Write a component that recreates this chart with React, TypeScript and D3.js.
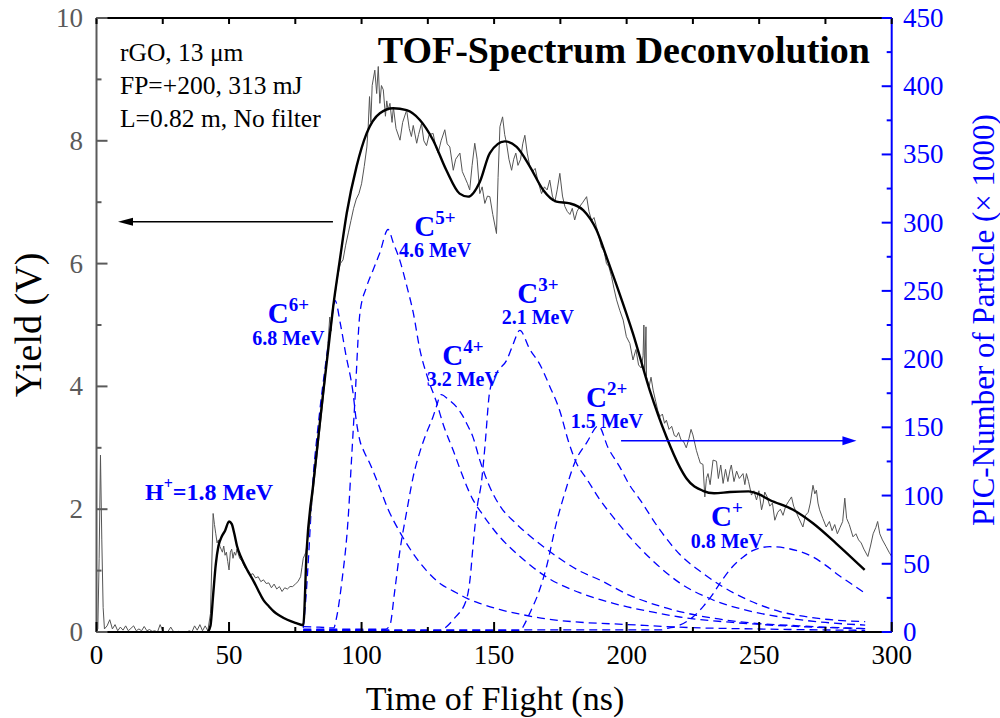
import React from "react";
import * as d3 from "d3";

// ---------- axis ticks ----------
const xMajorTicks = [0, 50, 100, 150, 200, 250, 300];
const xMinorTicks = [25, 75, 125, 175, 225, 275];
const yieldTicks = [0, 2, 4, 6, 8, 10];
const yieldMinorTicks = [1, 3, 5, 7, 9];
const picTicks = [0, 50, 100, 150, 200, 250, 300, 350, 400, 450];
const picMinorTicks = [25, 75, 125, 175, 225, 275, 325, 375, 425];

// ---------- measured TOF signal (ns, V) ----------
const measured: [number, number][] = [
  [0, 0], [0.5, 0.05], [1, 1.2], [1.5, 2.88], [2, 1.5], [2.5, 0.4], [3, 0.05], [4, 0.1], [5, 0.2], [6, 0.05],
  [7, 0.12], [8, 0.02], [9, 0.08], [10, 0.03], [11, 0.1], [12, 0.02], [13, 0.06], [14, 0.1], [15, 0.02], [16, 0.05],
  [17, 0.02], [18, 0.09], [19, 0.02], [20, 0.04], [21, 0.01], [22, 0.02], [23, 0.0], [24, 0.12], [25, 0.02], [26, 0.0],
  [27, 0.01], [28, 0.08], [29, 0.01], [30, 0.0], [31, 0.01], [32, 0.0], [33, 0.0], [34, 0.0], [35, 0.02], [36, 0.0],
  [37, 0.1], [38, 0.03], [39, 0.12], [40, 0.02], [41, 0.1], [42, 0.02], [43, 0.3], [44, 1.93], [44.5, 1.75], [45, 1.6],
  [45.5, 1.45], [46, 1.5], [46.6, 1.39], [47, 1.35], [47.5, 1.3], [48, 1.4], [48.5, 1.25], [49, 1.3], [49.5, 1.15], [50, 1.01],
  [50.5, 1.3], [51, 1.35], [51.5, 1.2], [52, 1.3], [52.5, 1.25], [53, 1.35], [54, 1.2], [55, 1.15], [56, 1.05], [57, 1.0],
  [58, 0.93], [59, 0.95], [60, 0.88], [61, 0.9], [62, 0.82], [63, 0.85], [64, 0.79], [65, 0.8], [66, 0.72], [67, 0.78],
  [68, 0.7], [69, 0.74], [70, 0.66], [71, 0.72], [72, 0.7], [73, 0.74], [74, 0.74], [75, 0.78], [76, 0.82], [77, 0.9],
  [77.5, 1.05], [78, 1.2], [78.5, 1.25], [79, 1.3], [80, 1.6], [81, 2.0], [82, 2.4], [83, 2.8], [84, 3.2], [85, 3.6],
  [86, 4.0], [87, 4.5], [88, 5.13], [88.5, 4.9], [89, 5.25], [90, 5.5], [91, 5.8], [92, 6.0], [93, 6.06], [94, 6.3],
  [95, 6.5], [96, 6.7], [97, 6.9], [98, 7.05], [99, 7.14], [100, 7.3], [101, 7.58], [102, 7.9], [102.5, 8.23], [103, 8.72],
  [103.5, 8.3], [104, 8.9], [105, 9.15], [105.7, 8.77], [106.3, 9.21], [106.9, 8.61], [107.5, 8.9], [108.2, 8.83], [109, 8.4], [109.5, 8.65],
  [110, 8.5], [110.7, 8.61], [111.5, 8.3], [112, 8.55], [113, 8.2], [114.5, 8.01], [115.5, 8.3], [117, 8.5], [118, 8.2], [118.8, 8.07],
  [119.5, 8.25], [120.8, 7.96], [121.5, 8.1], [122.6, 8.28], [123.5, 8.0], [124.5, 7.92], [125.5, 8.1], [127, 8.12], [128, 7.9], [128.9, 7.8],
  [130, 8.0], [131.4, 8.18], [132.3, 7.95], [133.3, 7.9], [134.6, 7.52], [135.5, 7.7], [137.1, 7.8], [138, 7.5], [139, 7.4], [140, 7.3],
  [140.8, 7.2], [141.7, 7.6], [142.7, 7.96], [143.6, 7.7], [144.6, 7.14], [145.5, 7.25], [146.5, 6.98], [147.5, 7.1], [148.4, 7.09], [149.5, 6.8],
  [150.9, 6.49], [151.5, 7.4], [152.2, 8.23], [153.2, 8.39], [154, 8.1], [154.7, 7.96], [155.6, 7.7], [156.6, 7.52], [157.4, 7.7], [158.2, 7.8],
  [159, 7.6], [160, 7.7], [160.8, 7.95], [161.6, 8.09], [162.5, 7.8], [163.5, 7.58], [164.5, 7.5], [165.5, 7.55], [166.5, 7.35], [167.9, 7.14],
  [169, 7.25], [170, 7.2], [171, 7.36], [172, 7.1], [172.9, 7.0], [173.8, 7.2], [174.8, 7.47], [175.8, 7.1], [176.7, 6.93], [177.6, 6.85],
  [178.6, 6.8], [179.5, 6.9], [180.4, 6.71], [181.3, 6.85], [182.3, 6.93], [183.5, 7.0], [184.9, 7.09], [185.8, 6.85], [186.8, 6.7], [187.7, 6.75],
  [188.6, 6.6], [189.5, 6.45], [190.5, 6.27], [191.5, 6.2], [192.4, 6.0], [193.3, 5.95], [194.3, 5.79], [195.2, 5.6], [196.2, 5.41], [197.4, 5.24],
  [198.7, 5.08], [199.9, 4.81], [201.2, 4.7], [202.4, 4.43], [203.5, 4.6], [204.5, 4.35], [205.5, 4.3], [206.2, 4.5], [206.5, 5.0], [206.8, 4.2],
  [207.3, 4.97], [207.5, 4.16], [208.5, 4.0], [209.2, 4.15], [210, 3.94], [211, 3.75], [211.8, 3.6], [212.6, 3.51], [213.5, 3.55], [214.3, 3.4],
  [215, 3.45], [216, 3.3], [217, 3.35], [218, 3.2], [218.8, 3.18], [219.6, 3.25], [220.5, 3.13], [221.5, 3.1], [222.5, 3.0], [223.5, 3.15],
  [224.3, 3.3], [225, 3.21], [226.3, 2.96], [227, 2.86], [227.8, 2.75], [228.8, 2.73], [229.5, 2.2], [230.1, 2.5], [230.7, 2.58], [231.5, 2.4],
  [232.6, 2.8], [233.9, 2.78], [234.6, 2.5], [235.5, 2.72], [236.4, 2.42], [237.3, 2.65], [238.2, 2.45], [239, 2.64], [239.5, 2.72], [240.5, 2.45],
  [241.5, 2.62], [242.5, 2.5], [243.9, 2.58], [244.6, 2.4], [245.2, 2.58], [246, 2.45], [247.1, 2.23], [248, 2.3], [249, 2.15], [249.9, 2.3],
  [250.9, 1.99], [251.5, 2.1], [252.1, 2.28], [253, 2.2], [254, 2.05], [255, 2.1], [255.9, 1.82], [257, 1.95], [258, 2.0], [259, 1.9],
  [260, 2.05], [261, 2.12], [262.2, 2.2], [263, 2.05], [264, 1.95], [265, 1.85], [266.5, 1.71], [267.5, 1.9], [268.5, 1.95], [269.3, 2.1],
  [270.3, 2.39], [271, 2.25], [271.6, 2.31], [272.2, 2.1], [272.8, 1.99], [274, 1.85], [275.3, 1.71], [276.5, 1.8], [277.5, 1.65], [278.5, 1.75],
  [279.5, 1.6], [280.5, 1.7], [281.5, 1.8], [282.3, 2.18], [283, 1.85], [284, 1.75], [285.4, 1.55], [286.5, 1.6], [287.5, 1.5], [288.5, 1.45],
  [289.5, 1.35], [291, 1.23], [292, 1.4], [293, 1.6], [294, 1.7], [294.7, 1.8], [295.5, 1.6], [296.5, 1.5], [297.9, 1.39], [299, 1.3],
  [300, 1.23],
];

// ---------- deconvolution fit (ns, V) ----------
const fit: [number, number][] = [
  [42, 0], [43, 0.1], [44, 0.6], [45, 1.1], [46, 1.4], [47.2, 1.55], [48.5, 1.65], [50, 1.8], [51, 1.76], [52, 1.6],
  [53, 1.4], [54.7, 1.2], [57, 1.0], [59, 0.85], [61, 0.68], [63, 0.52], [65, 0.42], [67, 0.33], [69, 0.27], [72, 0.2],
  [75, 0.15], [78, 0.11], [79.3, 1.34], [81.8, 2.42], [84, 3.3], [85.5, 3.89], [87.4, 4.59], [89.3, 5.3], [91.8, 6.06], [94.4, 6.82],
  [98.1, 7.58], [101.9, 8.12], [106.9, 8.45], [111.9, 8.53], [117, 8.5], [122, 8.34], [127, 8.01], [132, 7.52], [137, 7.14], [140.2, 7.09],
  [144.6, 7.33], [148.4, 7.8], [154, 7.99], [158.5, 7.9], [163.5, 7.58], [168.5, 7.2], [173.5, 7.01], [178.6, 6.98], [183.6, 6.87], [188.6, 6.55],
  [192.4, 6.11], [196.2, 5.65], [202.4, 4.86], [208.7, 3.94], [215, 3.18], [220, 2.69], [222.6, 2.5], [228.8, 2.3], [233, 2.26], [239, 2.28],
  [246, 2.29], [250, 2.24], [254, 2.15], [262.8, 1.99], [270.3, 1.77], [279.1, 1.44], [289.8, 1.01],
];

// ---------- PIC components (ns, particles x1000) ----------
const c6Plus: [number, number][] = [
  [78, 3], [79, 25], [80, 55], [81, 90], [82, 120], [83, 140], [84, 158], [85, 175], [86, 190], [87, 205], [88, 220], [89, 233], [90, 243],
  [92, 226], [94, 204], [96.8, 175], [98, 155], [99.4, 140], [101, 132], [103, 124], [106, 110], [110, 90], [114.5, 73], [120, 56],
  [124.5, 45], [130, 35], [134.6, 30], [140, 24.5], [144.6, 21], [152, 16.5], [160, 13], [170, 9.5], [180, 7.5], [200, 5.5], [220, 3.5],
  [250, 2.2], [290, 1.2],
];
const c5Plus: [number, number][] = [
  [78, 4], [84, 3.5], [89.5, 3], [90.5, 10], [92.5, 36], [95, 85], [96.2, 126], [97.5, 170], [99.4, 234], [101.9, 253], [104.5, 266],
  [106.9, 278], [110, 295], [112, 285], [114.5, 272], [117, 254], [119.5, 234], [122, 207], [125, 186], [128, 170], [131, 151],
  [134.6, 133], [138, 115], [142, 97], [145, 88], [152, 70], [160, 55], [170, 40], [182, 29], [195, 21], [210, 14.5], [220, 11],
  [240, 7], [265, 4], [290, 2.5],
];
const c4Plus: [number, number][] = [
  [78, 2], [109, 2], [110.7, 5], [112.5, 30], [114.5, 60], [117, 88], [119.5, 114], [122, 132], [124.5, 146], [127, 158], [128.2, 165],
  [130, 174], [133, 170], [135.8, 165], [138, 159], [139.6, 153], [142, 143], [144.6, 126], [148, 108], [152, 93], [158, 80], [165, 68],
  [171, 59], [182, 45], [190, 38], [201, 27], [212.5, 19], [220, 15], [233, 10], [245, 7], [265, 4.5], [290, 2.5],
];
const c3Plus: [number, number][] = [
  [78, 1], [130, 1], [131.5, 3], [135, 10], [139.6, 24], [141, 40], [142, 62], [143.5, 90], [145.3, 111], [146.5, 135], [148.4, 177],
  [151, 190], [154.7, 199], [157, 210], [159.7, 221], [163.5, 207], [167.3, 196], [171, 180], [174.8, 162], [178, 140], [181, 124],
  [185, 112], [189.9, 97], [195, 84], [201, 70], [210, 52], [220, 36], [232, 24], [245, 16], [258, 11], [275, 7], [290, 5.1],
];
const c2Plus: [number, number][] = [
  [78, 1], [160, 1], [161, 4], [163.5, 14], [167, 30], [169.8, 48], [173.5, 80], [177, 104], [180.4, 124], [185, 139], [189.4, 151],
  [193, 135], [197.4, 121], [201, 108], [205, 97], [212.5, 75], [220, 57], [228.8, 43], [236.4, 33], [245.2, 24], [257.8, 15],
  [270, 10.5], [290, 7.6],
];
const c1Plus: [number, number][] = [
  [78, 1.5], [213, 1.5], [215, 2.5], [220, 5], [225, 11], [229, 19], [232.6, 28], [236, 38], [240, 48], [244, 55], [248, 60],
  [254, 62.5], [260, 61.5], [265.3, 59], [270.3, 55], [275, 49], [280.4, 41], [285, 35], [290, 28.4],
];
const components = [c6Plus, c5Plus, c4Plus, c3Plus, c2Plus, c1Plus];

// ---------- annotation text ----------
const ionCharges = ["6+", "5+", "4+", "3+", "2+", "+"];
const ionEnergies = ["6.8 MeV", "4.6 MeV", "3.2 MeV", "2.1 MeV", "1.5 MeV", "0.8 MeV"];
const ionLabelT = [72.4, 127.7, 138.2, 166.5, 192.5, 237.8];
const ionLabelV = [5.0, 6.42, 4.32, 5.33, 3.64, 1.69];
const infoLines = ["rGO, 13 \u03bcm", "FP=+200, 313 mJ", "L=0.82 m, No filter"];

const SERIF = "'Liberation Serif', 'Times New Roman', Times, serif";
const BLUE = "#0000ff";
const GRAY_AXIS = "#5a5a5a";

export default function App() {
  const x = d3.scaleLinear().domain([0, 300]).range([96.5, 891.7]);
  const yL = d3.scaleLinear().domain([0, 10]).range([632, 18]);
  const yR = d3.scaleLinear().domain([0, 450]).range([632, 18]);

  const lineL = d3
    .line<[number, number]>()
    .x((d) => x(d[0]))
    .y((d) => yL(d[1]));
  const fitLine = d3
    .line<[number, number]>()
    .x((d) => x(d[0]))
    .y((d) => yL(d[1]))
    .curve(d3.curveMonotoneX);
  const compLine = d3
    .line<[number, number]>()
    .x((d) => x(d[0]))
    .y((d) => yR(d[1]))
    .curve(d3.curveMonotoneX);

  const x0 = x(0), x1 = x(300), yTop = yL(10), yBot = yL(0);

  // arrows (data coords)
  const la = { from: x(89.2), to: x(8.1), y: yL(6.68) };
  const ra = { from: x(197.9), to: x(286.7), y: yR(140.2) };

  return (
    <svg
      width={1000}
      height={718}
      style={{ position: "absolute", left: 0, top: 0, background: "#fff" }}
      fontFamily={SERIF}
    >
      <rect x={0} y={0} width={1000} height={718} fill="#fff" />

      {/* component curves */}
      {components.map((c, i) => (
        <path
          key={"c" + i}
          d={compLine(c) || ""}
          fill="none"
          stroke={BLUE}
          strokeWidth={1.3}
          strokeDasharray="8,5"
        />
      ))}

      {/* measured */}
      <path d={lineL(measured) || ""} fill="none" stroke="#555" strokeWidth={1} />
      {/* fit */}
      <path d={fitLine(fit) || ""} fill="none" stroke="#000" strokeWidth={2.4} />

      {/* frame: top and bottom */}
      <line x1={x0} x2={x1} y1={yTop} y2={yTop} stroke="#000" strokeWidth={2} />
      <line x1={x0} x2={x1} y1={yBot} y2={yBot} stroke="#000" strokeWidth={2.2} />
      {/* left axis */}
      <line x1={x0} x2={x0} y1={yTop} y2={yBot} stroke={GRAY_AXIS} strokeWidth={2} />
      {/* right axis */}
      <line x1={x1} x2={x1} y1={yTop} y2={yBot} stroke={BLUE} strokeWidth={2} />

      {/* bottom ticks */}
      {xMajorTicks.map((t) => (
        <g key={"xb" + t}>
          <line x1={x(t)} x2={x(t)} y1={yBot} y2={yBot - 10} stroke="#000" strokeWidth={2} />
          <line x1={x(t)} x2={x(t)} y1={yTop} y2={yTop + 6} stroke="#000" strokeWidth={2} />
          <text x={x(t)} y={664} textAnchor="middle" fontSize={27} fill="#000">
            {t}
          </text>
        </g>
      ))}
      {xMinorTicks.map((t) => (
        <g key={"xm" + t}>
          <line x1={x(t)} x2={x(t)} y1={yBot} y2={yBot - 5} stroke="#000" strokeWidth={2} />
          <line x1={x(t)} x2={x(t)} y1={yTop} y2={yTop + 6} stroke="#000" strokeWidth={2} />
        </g>
      ))}

      {/* left ticks */}
      {yieldTicks.map((v) => (
        <g key={"yl" + v}>
          <line x1={x0} x2={x0 + 11} y1={yL(v)} y2={yL(v)} stroke={GRAY_AXIS} strokeWidth={2} />
          <text x={83} y={yL(v) + 9} textAnchor="end" fontSize={27} fill={GRAY_AXIS}>
            {v}
          </text>
        </g>
      ))}
      {yieldMinorTicks.map((v) => (
        <line key={"ylm" + v} x1={x0} x2={x0 + 5} y1={yL(v)} y2={yL(v)} stroke={GRAY_AXIS} strokeWidth={2} />
      ))}

      {/* right ticks */}
      {picTicks.map((v) => (
        <g key={"yr" + v}>
          <line x1={x1} x2={x1 - 10} y1={yR(v)} y2={yR(v)} stroke={BLUE} strokeWidth={2} />
          <text x={903} y={yR(v) + 9} textAnchor="start" fontSize={27} fill={BLUE}>
            {v}
          </text>
        </g>
      ))}
      {picMinorTicks.map((v) => (
        <line key={"yrm" + v} x1={x1} x2={x1 - 5} y1={yR(v)} y2={yR(v)} stroke={BLUE} strokeWidth={2} />
      ))}

      {/* axis titles */}
      <text x={495} y={710} textAnchor="middle" fontSize={34} fill="#000">
        Time of Flight (ns)
      </text>
      <text transform="translate(41,325) rotate(-90)" textAnchor="middle" fontSize={38} fill="#000">
        Yield (V)
      </text>
      <text transform="translate(994,320) rotate(-90)" textAnchor="middle" fontSize={31} fill={BLUE}>
        PIC-Number of Particle (× 1000)
      </text>

      {/* title & info */}
      <text x={870} y={63} textAnchor="end" fontSize={38} fontWeight="bold" fill="#000">
        TOF-Spectrum Deconvolution
      </text>
      {infoLines.map((s, i) => (
        <text key={"info" + i} x={120} y={61 + i * 33} fontSize={25.5} fill="#000">
          {s}
        </text>
      ))}

      {/* arrows */}
      <line x1={la.from} x2={la.to + 12} y1={la.y} y2={la.y} stroke="#000" strokeWidth={1.5} />
      <path
        d={`M${la.to},${la.y} L${la.to + 15},${la.y - 4} L${la.to + 15},${la.y + 4} Z`}
        fill="#000"
      />
      <line x1={ra.from} x2={ra.to - 10} y1={ra.y} y2={ra.y} stroke={BLUE} strokeWidth={1.5} />
      <path
        d={`M${ra.to},${ra.y} L${ra.to - 14},${ra.y - 4.5} L${ra.to - 14},${ra.y + 4.5} Z`}
        fill={BLUE}
      />

      {/* H+ label */}
      <text x={x(18.3)} y={yL(2.15)} fontSize={24} fontWeight="bold" fill={BLUE}>
        H
        <tspan dy={-11} fontSize={16}>
          +
        </tspan>
        <tspan dy={11}>=1.8 MeV</tspan>
      </text>

      {/* C ion labels: charge state on first line, energy on second */}
      {ionCharges.map((q, i) => (
        <g key={"ion" + i}>
          <text
            x={x(ionLabelT[i])}
            y={yL(ionLabelV[i]) - 2}
            textAnchor="middle"
            fontWeight="bold"
            fill={BLUE}
            fontSize={29}
          >
            C
            <tspan dy={-12} fontSize={19}>
              {q}
            </tspan>
          </text>
          <text
            x={x(ionLabelT[i])}
            y={yL(ionLabelV[i]) + 19.5}
            textAnchor="middle"
            fontWeight="bold"
            fill={BLUE}
            fontSize={20}
          >
            {ionEnergies[i]}
          </text>
        </g>
      ))}
    </svg>
  );
}
